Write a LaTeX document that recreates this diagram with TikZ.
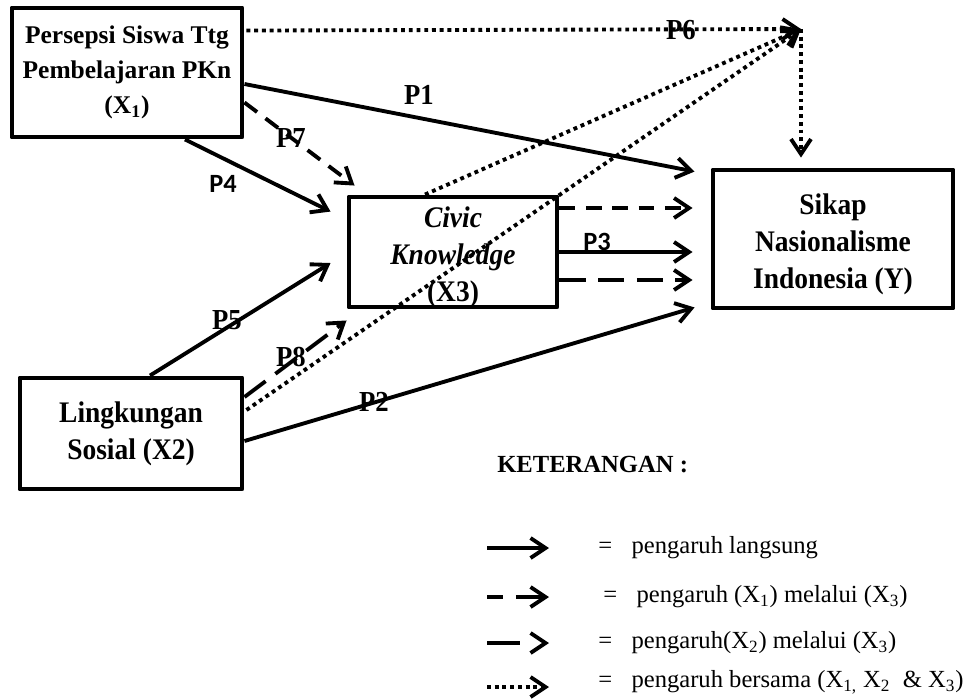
\documentclass[tikz,border=0pt]{standalone}
\usepackage{fontspec}
\setmainfont{Liberation Serif}
\newfontfamily\boxserif[FakeStretch=0.92]{Liberation Serif}
\newfontfamily\calibri{Carlito}
\usetikzlibrary{arrows.meta, calc, positioning}
\newcommand{\topstrut}[1][17.7pt]{\rule{0pt}{#1}}

\tikzset{
  box/.style={draw, line width=2.8pt, line join=round, align=center, inner sep=2pt, font=\boxserif\bfseries\fontsize{17}{21}\selectfont},
  tip/.style={-{Straight Barb[length=3mm, width=4mm]}},
  direct/.style={tip, line width=2.2pt},
  viaone/.style={direct, dash pattern=on 9pt off 6pt},
  viatwo/.style={direct, dash pattern=on 15pt off 7pt},
  joint/.style={direct, dash pattern=on 2.2pt off 2.2pt},
  plab/.style={font=\boxserif\bfseries\fontsize{16.5}{18}\selectfont, inner sep=0pt},
  psf/.style={font=\calibri\bfseries\fontsize{15}{16}\selectfont, inner sep=0pt},
  legend/.style={anchor=west, inner sep=0pt, font=\fontsize{14}{16}\selectfont}
}

\begin{document}
\begin{tikzpicture}[x=0.02cm, y=-0.02cm]
        \useasboundingbox (0,0) rectangle (980,698);

        \node[box, font=\bfseries\fontsize{14.5}{20}\selectfont, minimum width=230*0.02cm, minimum height=129*0.02cm] (x1) at (127,72.5) {Persepsi Siswa Ttg\\Pembelajaran PKn\\(X\textsubscript{1})};
        \node[box, inner ysep=0pt, text depth=0pt, minimum width=208*0.02cm, minimum height=110*0.02cm] (x3) at (453,252) {\topstrut[14.5pt]\textit{Civic}\\\textit{Knowledge}\\(X3)};
        \node[box, minimum width=240*0.02cm, minimum height=138*0.02cm] (y) at (833,239) {\topstrut Sikap\\Nasionalisme\\Indonesia (Y)};
        \node[box, minimum width=222*0.02cm, minimum height=111*0.02cm] (x2) at (131,433.5) {Lingkungan\\Sosial (X2)};
        \coordinate (j) at (801,29);

        \draw[joint] ($(x1.north east)+(2,25)$) -- (j);
        \draw[joint] ($(x3.north)+(-28,0)$) -- (j);
        \draw[joint] ($(x2.east)+(2,-23.5)$) -- (j);
        \draw[joint] (j) -- ($(j |- y.north)+(0,-10)$);

        \draw[direct] ($(x1.east)+(0,11.5)$) -- ($(y.north west)+(-16,4)$);
        \draw[viaone] ($(x1.east)+(0,30)$) -- ($(x3.north west)+(8,-9)$);
        \draw[direct] ($(x1.south)+(58,0)$) -- ($(x3.north west)+(-16,17)$);
        \draw[direct] ($(x2.north)+(19,0)$) -- ($(x3.west)+(-16,11)$);
        \draw[viatwo] ($(x2.east)+(0,-36.5)$) -- ($(x3.south west)+(0,11)$);
        \draw[direct] ($(x2.east)+(0,7.5)$) -- ($(y.south west)+(-16,-3)$);

        \draw[viaone] ($(x3.east)+(0,-44)$) -- ($(y.west)+(-18,-31)$);
        \draw[direct] (x3.east) -- ($(y.west)+(-18,13)$);
        \draw[viatwo] ($(x3.east)+(0,28)$) -- ($(y.west)+(-18,41)$);

        \node[plab] (lp6) at (681,30) {P6};
        \node[plab] (lp1) at (419,95) {P1};
        \node[plab] (lp7) at (291,138) {P7};
        \node[psf] (lp4) at (223,184) {P4};
        \node[plab] (lp5) at (227,320) {P5};
        \node[plab] (lp8) at (291,357) {P8};
        \node[plab] (lp2) at (374,402) {P2};
        \node[psf] (lp3) at (597,242) {P3};

        \node[legend, font=\bfseries\fontsize{14}{16}\selectfont] (ket) at (497,465) {KETERANGAN :};
        \node[legend] (l1) at (598,548) {=\hspace{11pt}pengaruh langsung};
        \node[legend] (l2) at (603,597) {=\hspace{11pt}pengaruh (X\textsubscript{1}) melalui (X\textsubscript{3})};
        \node[legend] (l3) at (598,643) {=\hspace{11pt}pengaruh(X\textsubscript{2}) melalui (X\textsubscript{3})};
        \node[legend] (l4) at (598,682) {=\hspace{11pt}pengaruh bersama (X\textsubscript{1,} X\textsubscript{2}\ \ \& X\textsubscript{3})};

        \coordinate (k1) at (487,548);
        \coordinate (k2) at (487,597);
        \coordinate (k3) at (487,643);
        \coordinate (k4) at (487,687);
        \draw[direct] (k1) -- ++(62,0);
        \draw[direct, dash pattern=on 9pt off 7.4pt on 30pt off 0pt] (k2) -- ++(62,0);
        \draw[direct, dash pattern=on 18.7pt off 30pt] (k3) -- ++(62,0);
        \draw[joint] (k4) -- ++(62,0);
      \end{tikzpicture}
\end{document}
